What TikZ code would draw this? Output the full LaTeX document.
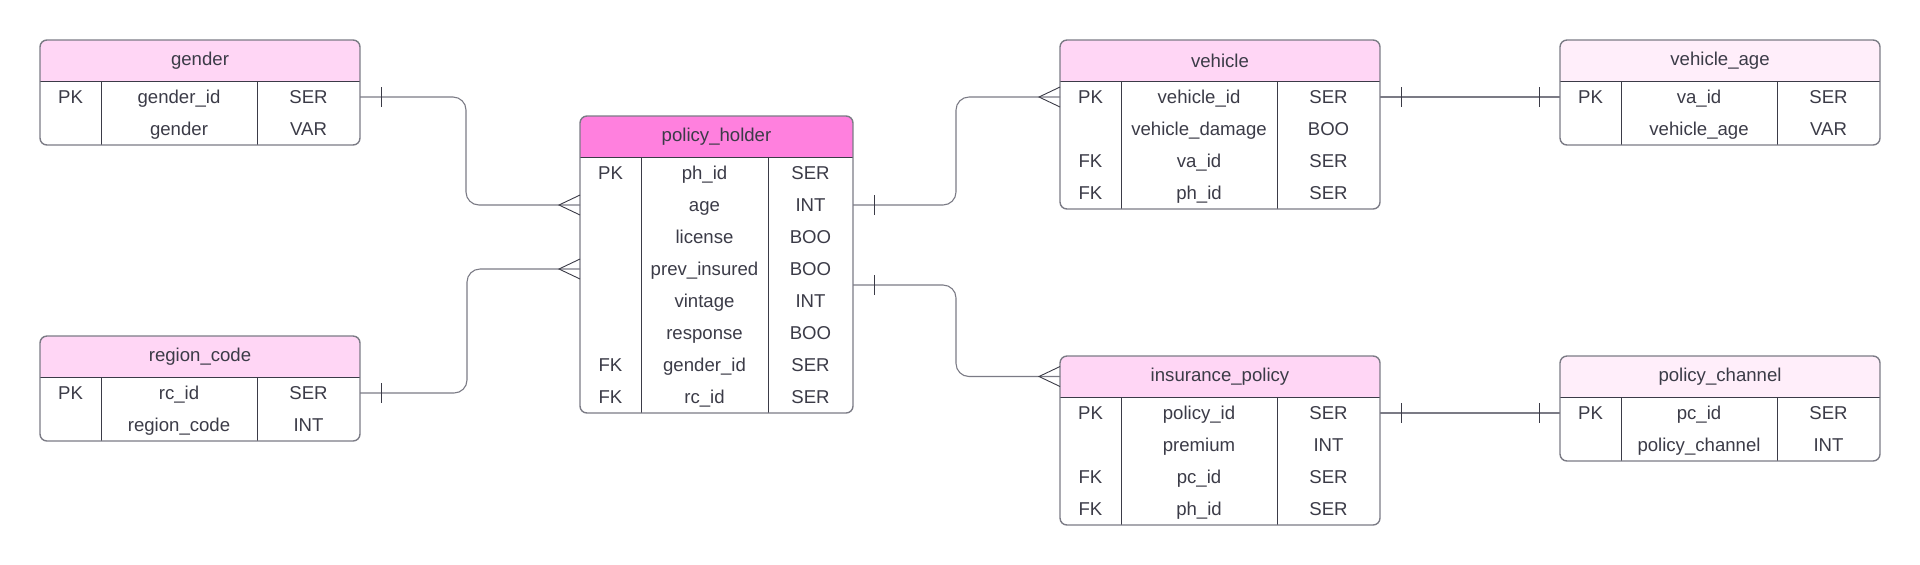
\documentclass[tikz,border=0pt]{standalone}
\usepackage{fontspec}
\setmainfont{Liberation Sans}
\usetikzlibrary{calc}
\definecolor{hdrhot}{HTML}{FF80DE}
\definecolor{hdrpink}{HTML}{FFD6F5}
\definecolor{hdrpale}{HTML}{FFEEFA}
\definecolor{edgegray}{HTML}{7B7B85}
\definecolor{inkgray}{HTML}{3B3B47}
\tikzset{
  cell/.style={inner sep=0pt, outer sep=0pt, text=inkgray, text height=6.7pt, text depth=0pt, font=\fontsize{9.3}{11}\selectfont},
  rowbox/.style={inner sep=0pt, outer sep=0pt, minimum height=16pt, anchor=north west},
  link/.style={draw=edgegray, line width=0.55pt, rounded corners=6.5pt},
  foot/.style={draw=inkgray, line width=0.45pt},
}
\def\ertable[#1](#2,#3)(#4:#5:#6)#7#8#9{%
  \begin{scope}
    \clip[rounded corners=3.5pt] (#2,#3) rectangle (#2+#4,#3+41+32*#6);
    \node[cell, fill=#1, anchor=north west, text height=, text depth=, minimum width=#4*0.5pt, minimum height=20.5pt] (#7) at (#2,#3) {#8};
  \end{scope}
  \draw[inkgray, line width=0.5pt] (#2,#3+41) -- (#2+#4,#3+41)
    (#2+61,#3+41) -- (#2+61,#3+41+32*#6) (#2+#5,#3+41) -- (#2+#5,#3+41+32*#6);
  \draw[edgegray, line width=0.7pt, rounded corners=3.5pt] (#2,#3) rectangle (#2+#4,#3+41+32*#6);
  \foreach \ky/\nm/\ty [count=\i] in {#9} {
    \node[rowbox, minimum width=#4*0.5pt] (#7-\i) at (#2,#3+41+32*\i-32) {};
    \node[cell] (#7-\i-k) at (#2+30.5,#3+25+32*\i) {\ky};
    \node[cell] (#7-\i-n) at (#2+30.5+#5/2,#3+25+32*\i) {\nm};
    \node[cell] (#7-\i-t) at (#2+#5/2+#4/2,#3+25+32*\i) {\ty};
  }
}

\begin{document}
\begin{tikzpicture}[x=0.5pt, y=-0.5pt]
  \useasboundingbox (0,0) rectangle (1920,564);

  % tables
  \ertable[hdrpink](40,40)(320:217:2){gender}{gender}{PK/gender\_id/SER, /gender/VAR}
  \ertable[hdrpink](40,336)(320:217:2){region}{region\_code}{PK/rc\_id/SER, /region\_code/INT}
  \ertable[hdrhot](580,116)(273:188:8){ph}{policy\_holder}{PK/ph\_id/SER, /age/INT, /license/BOO, /prev\_insured/BOO, /vintage/INT, /response/BOO, FK/gender\_id/SER, FK/rc\_id/SER}
  \ertable[hdrpink](1060,40)(320:217:4){vehicle}{vehicle}{PK/vehicle\_id/SER, /vehicle\_damage/BOO, FK/va\_id/SER, FK/ph\_id/SER}
  \ertable[hdrpale](1560,40)(320:217:2){vage}{vehicle\_age}{PK/va\_id/SER, /vehicle\_age/VAR}
  \ertable[hdrpink](1060,356)(320:217:4){policy}{insurance\_policy}{PK/policy\_id/SER, /premium/INT, FK/pc\_id/SER, FK/ph\_id/SER}
  \ertable[hdrpale](1560,356)(320:217:2){channel}{policy\_channel}{PK/pc\_id/SER, /policy\_channel/INT}

  % relations
  \draw[link] (gender-1.east) -- ++(106,0) |- (ph-2.west);
  \draw[link] (region-1.east) -- ++(107,0) |- (ph-4.west);
  \draw[link] (ph-2.east) -- ++(103,0) |- (vehicle-1.west);
  \draw[link] (ph-4.south east) -- ++(103,0) |- (policy.west);
  \draw[link] (vehicle-1.east) -- (vage-1.west);
  \draw[link] (policy-1.east) -- (channel-1.west);

  % one ends
  \foreach \a in {gender-1.east, region-1.east, ph-2.east, ph-4.south east, vehicle-1.east, policy-1.east}
    \draw[foot] (\a) ++(21,-10) -- ++(0,20);
  \foreach \a in {vage-1.west, channel-1.west}
    \draw[foot] (\a) ++(-21,-10) -- ++(0,20);
  % many ends
  \foreach \a in {ph-2.west, ph-4.west, vehicle-1.west, policy.west}
    \draw[foot] (\a) ++(0,-10) -- ++(-21,10) -- ++(21,10);
\end{tikzpicture}
\end{document}
